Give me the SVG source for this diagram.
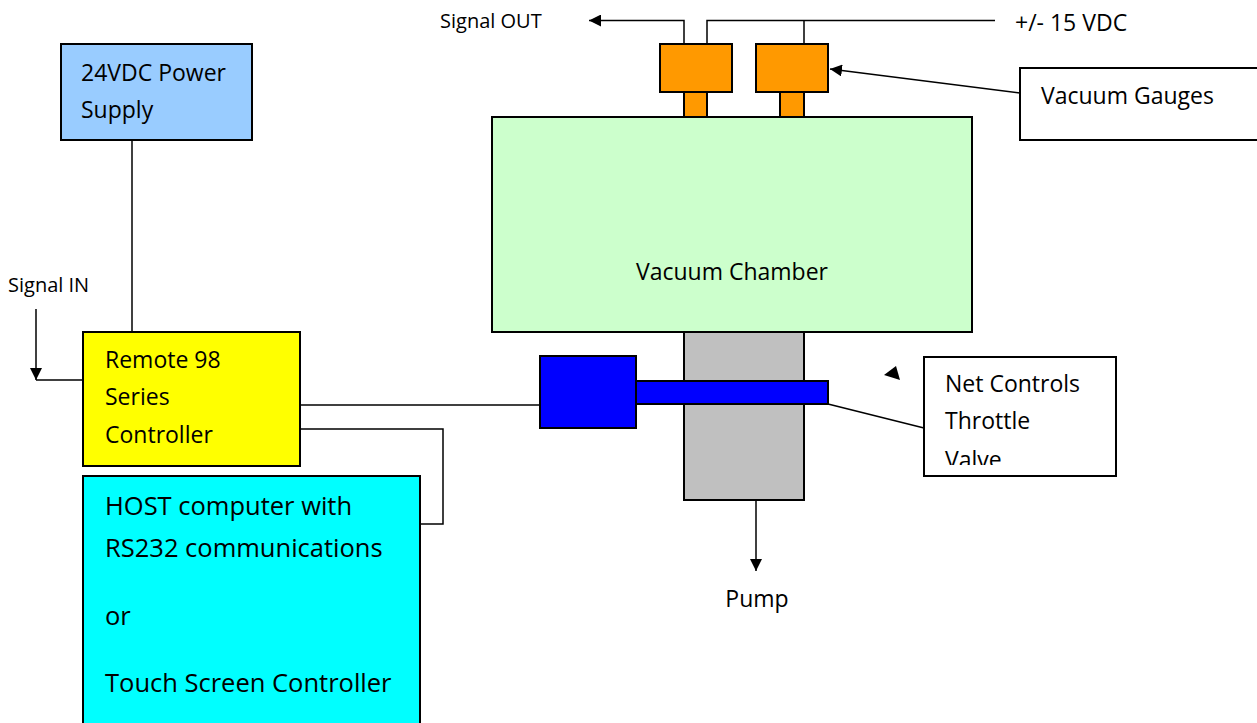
<svg xmlns="http://www.w3.org/2000/svg" width="1257" height="723" viewBox="0 0 1257 723">
<style>
.box{stroke:#000;stroke-width:2}
.ln{fill:none;stroke:#000;stroke-width:1.5}
text{font-family:"Open Sans","Liberation Sans",sans-serif;fill:#000}
.t16{font-size:20px}
.t20{font-size:23px}
.t24{font-size:25.5px}
</style>
<defs>
<marker id="arr" viewBox="0 0 10 10" refX="10" refY="5" markerWidth="12" markerHeight="12" markerUnits="userSpaceOnUse" orient="auto">
<path d="M0,0 L10,5 L0,10 Z" fill="#000"/>
</marker>
<clipPath id="netclip"><rect x="924" y="357" width="192" height="108"/></clipPath>
</defs>
<rect width="1257" height="723" fill="#fff"/>

<g id="connectors">
<path class="ln" d="M684,44 V20.5 H589" marker-end="url(#arr)"/>
<path class="ln" d="M707,44 V20.5 H995 M804,44 V20.5"/>
<path class="ln" d="M1020,93 L830,69" marker-end="url(#arr)"/>
<path class="ln" d="M132,140 V332"/>
<path class="ln" d="M36,309 V380" marker-end="url(#arr)"/>
<path class="ln" d="M36,380 H83"/>
<path class="ln" d="M300,405 H540"/>
<path class="ln" d="M300,429 H443 V524 H420"/>
<path class="ln" d="M828,404 L924,428"/>
<path class="ln" d="M756,501 V571" marker-end="url(#arr)"/>
<polygon points="896,366 884,375 900,380" fill="#000"/>
</g>

<g id="power-supply">
<rect class="box" x="61" y="44" width="191" height="96" fill="#99CCFF"/>
<text class="t20" x="81" y="81">24VDC Power</text>
<text class="t20" x="81" y="118">Supply</text>
</g>

<g id="controller">
<rect class="box" x="83" y="332" width="217" height="134" fill="#FFFF00"/>
<text class="t20" x="105" y="368">Remote 98</text>
<text class="t20" x="105" y="405">Series</text>
<text class="t20" x="105" y="443">Controller</text>
</g>

<g id="host">
<rect class="box" x="83" y="476" width="337" height="260" fill="#00FFFF"/>
<text class="t24" x="105" y="515">HOST computer with</text>
<text class="t24" x="105" y="557">RS232 communications</text>
<text class="t24" x="105" y="625">or</text>
<text class="t24" x="105" y="692">Touch Screen Controller</text>
</g>

<g id="signal-in">
<text class="t16" x="8" y="292">Signal IN</text>
</g>

<g id="signal-out">
<text class="t16" x="440" y="28">Signal OUT</text>
</g>

<g id="supply-15vdc">
<text class="t20" x="1015" y="31">+/- 15 VDC</text>
</g>

<g id="pump-pipe">
<rect class="box" x="684" y="332" width="120" height="168" fill="#C0C0C0"/>
</g>

<g id="vacuum-chamber">
<rect class="box" x="492" y="117" width="480" height="215" fill="#CCFFCC"/>
<text class="t20" x="732" y="280" text-anchor="middle">Vacuum Chamber</text>
</g>

<g id="gauge-1">
<rect class="box" x="684" y="92" width="23" height="25" fill="#FF9900"/>
<rect class="box" x="660" y="44" width="72" height="48" fill="#FF9900"/>
</g>
<g id="gauge-2">
<rect class="box" x="780" y="92" width="24" height="25" fill="#FF9900"/>
<rect class="box" x="756" y="44" width="72" height="48" fill="#FF9900"/>
</g>

<g id="throttle-valve">
<rect class="box" x="540" y="356" width="96" height="72" fill="#0000FF"/>
<rect class="box" x="636" y="381" width="192" height="23" fill="#0000FF"/>
</g>

<g id="vacuum-gauges-label">
<rect class="box" x="1020" y="68" width="250" height="72" fill="#fff"/>
<text class="t20" x="1041" y="104">Vacuum Gauges</text>
</g>

<g id="net-controls-label">
<rect class="box" x="924" y="357" width="192" height="119" fill="#fff"/>
<g clip-path="url(#netclip)">
<text class="t20" x="945" y="392">Net Controls</text>
<text class="t20" x="945" y="429">Throttle</text>
<text class="t20" x="945" y="468">Valve</text>
</g>
</g>

<g id="pump">
<text class="t20" x="757" y="607" text-anchor="middle">Pump</text>
</g>
</svg>
